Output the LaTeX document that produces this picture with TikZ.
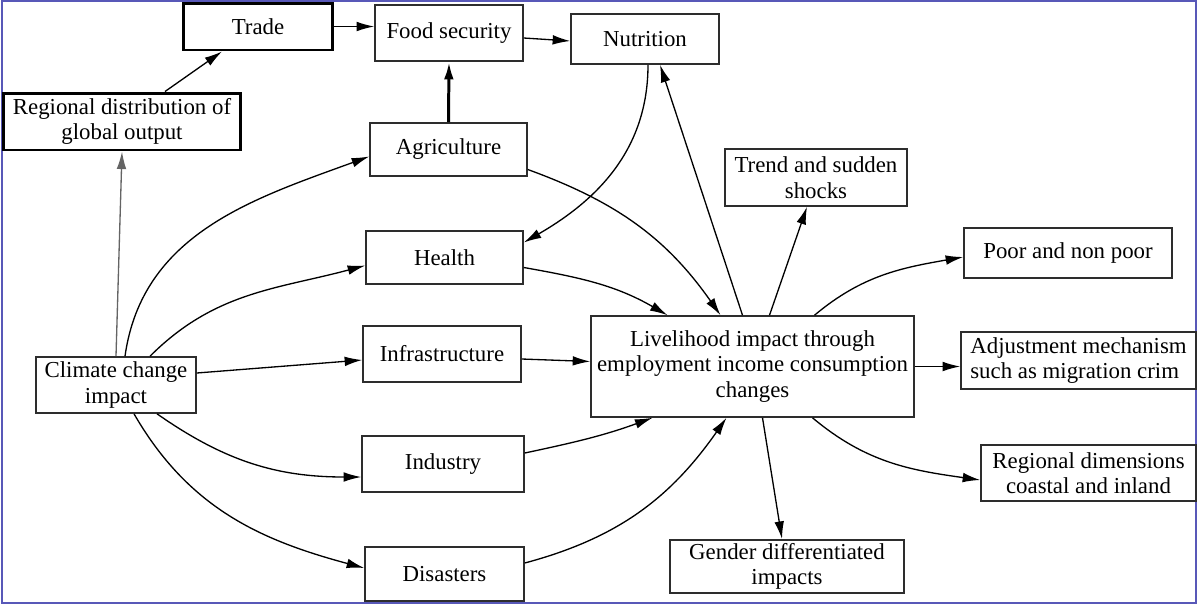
\documentclass[tikz,border=0pt]{standalone}
\usepackage{fontspec}
\setmainfont{Liberation Serif}
\usetikzlibrary{arrows.meta,calc}
\definecolor{framecol}{RGB}{88,88,184}
\definecolor{boxline}{RGB}{45,45,45}
\definecolor{linkgray}{RGB}{100,100,100}
\tikzset{
  box/.style={draw=boxline, line width=0.9pt, fill=white, inner sep=2pt,
              align=center, font=\fontsize{13}{14.5}\selectfont},
  boldbox/.style={box, draw=black, line width=1.7pt},
  arr/.style={-{Latex[length=10pt,width=5.5pt]}, line width=0.75pt, black},
  thickarr/.style={arr, line width=1.7pt}
}

\begin{document}
\begin{tikzpicture}[x=0.02cm, y=-0.02cm]
  \useasboundingbox (0,0) rectangle (1200,606);
  % Frame
  \draw[framecol, line width=1.2pt] (2,1) rectangle (1196,603);

  % Left side: driver and global output
  \node[box, minimum width=3.2cm, minimum height=1.12cm] (climate) at (116,385)
        {Climate change\\impact};
  \node[boldbox, minimum width=4.76cm, minimum height=1.14cm] (regdist) at (122,121.5)
        {Regional distribution of\\global output};
  \node[boldbox, minimum width=3cm, minimum height=0.94cm] (trade) at (258,26.5) {Trade};

  % Top row
  \node[box, minimum width=2.96cm, minimum height=1.12cm] (food) at (449,33) {Food security};
  \node[box, minimum width=2.96cm, minimum height=1cm] (nutr) at (645,39) {Nutrition};

  % Sectors
  \node[box, minimum width=3.14cm, minimum height=1.06cm] (agri) at (448.5,149.5) {Agriculture};
  \node[box, minimum width=3.14cm, minimum height=1.06cm] (health) at (444.5,257.5) {Health};
  \node[box, minimum width=3.16cm, minimum height=1.12cm] (infra) at (442,354) {Infrastructure};
  \node[box, minimum width=3.24cm, minimum height=1.12cm] (industry) at (443,464) {Industry};
  \node[box, minimum width=3.18cm, minimum height=1.08cm] (disasters) at (444.5,574) {Disasters};

  % Livelihood and outcomes
  \node[box, minimum width=6.46cm, minimum height=2.02cm] (live) at (752.5,366.5)
        {Livelihood impact through\\employment income consumption\\changes};
  \node[box, minimum width=3.64cm, minimum height=1.14cm] (trend) at (816,177.5)
        {Trend and sudden\\shocks};
  \node[box, minimum width=4.16cm, minimum height=1cm] (poor) at (1068,253) {Poor and non poor};
  \node[box, minimum width=4.7cm, minimum height=1.14cm, align=left] (adjust) at (1078.5,360.5)
        {Adjustment mechanism\\such as migration crim};
  \node[box, minimum width=4.3cm, minimum height=1.12cm] (regdim) at (1088.5,473)
        {Regional dimensions\\coastal and inland};
  \node[box, minimum width=4.68cm, minimum height=1.06cm] (gender) at (787,566.5)
        {Gender differentiated\\impacts};

  % Global output and food chain
  \draw[arr, draw=linkgray] (climate.north) -- (regdist.south);
  \draw[arr] ($(regdist.north)+(43,0)$) -- ($(trade.south)+(-36,0)$);
  \draw[arr] (trade.east) -- (trade.east -| food.west);
  \draw[arr] ($(food.east)+(0,5)$) -- ($(nutr.west)+(0,2)$);
  \draw[thickarr] (agri.north) -- (food.south);

  % Climate change impact into sectors
  \draw[arr] ($(climate.north)+(9,0)$) to[out=82, in=200] ($(agri.west)+(0,7)$);
  \draw[arr] ($(climate.north)+(34,0)$) to[out=45, in=195] ($(health.west)+(0,8)$);
  \draw[arr] ($(climate.east)+(0,-12)$) -- ($(infra.west)+(0,6)$);
  \draw[arr] ($(climate.south)+(41,0)$) to[out=-35, in=180] ($(industry.west)+(0,13)$);
  \draw[arr] ($(climate.south)+(18,0)$) to[out=-60, in=165] ($(disasters.west)+(0,-6)$);

  % Sectors into livelihood
  \draw[arr] ($(agri.east)+(0,20)$) to[out=-20, in=125] ($(live.north)+(-32,0)$);
  \draw[arr] ($(health.east)+(0,10)$) to[out=-10, in=150] ($(live.north)+(-85,0)$);
  \draw[arr] ($(infra.east)+(0,5)$) -- ($(live.west)+(0,-5)$);
  \draw[arr] ($(industry.east)+(0,-11)$) to[out=12, in=200] ($(live.south)+(-100,0)$);
  \draw[arr] ($(disasters.east)+(0,-11)$) to[out=15, in=235] ($(live.south)+(-26,0)$);

  % Nutrition and health
  \draw[arr] ($(nutr.south)+(3,0)$) to[out=-90, in=30] ($(health.east)+(0,-15)$);
  \draw[arr] ($(live.north)+(-10,0)$) -- ($(nutr.south)+(15,0)$);

  % Outcomes
  \draw[arr] ($(live.north)+(17,0)$) -- ($(trend.south)+(-9,0)$);
  \draw[arr] ($(live.north)+(62,0)$) to[out=40, in=190] ($(poor.west)+(0,4)$);
  \draw[arr] (live.east) -- (live.east -| adjust.west);
  \draw[arr] ($(live.south)+(60,0)$) to[out=-40, in=172] ($(regdim.west)+(0,7)$);
  \draw[arr] ($(live.south)+(10,0)$) -- ($(gender.north)+(-5,0)$);
\end{tikzpicture}
\end{document}
